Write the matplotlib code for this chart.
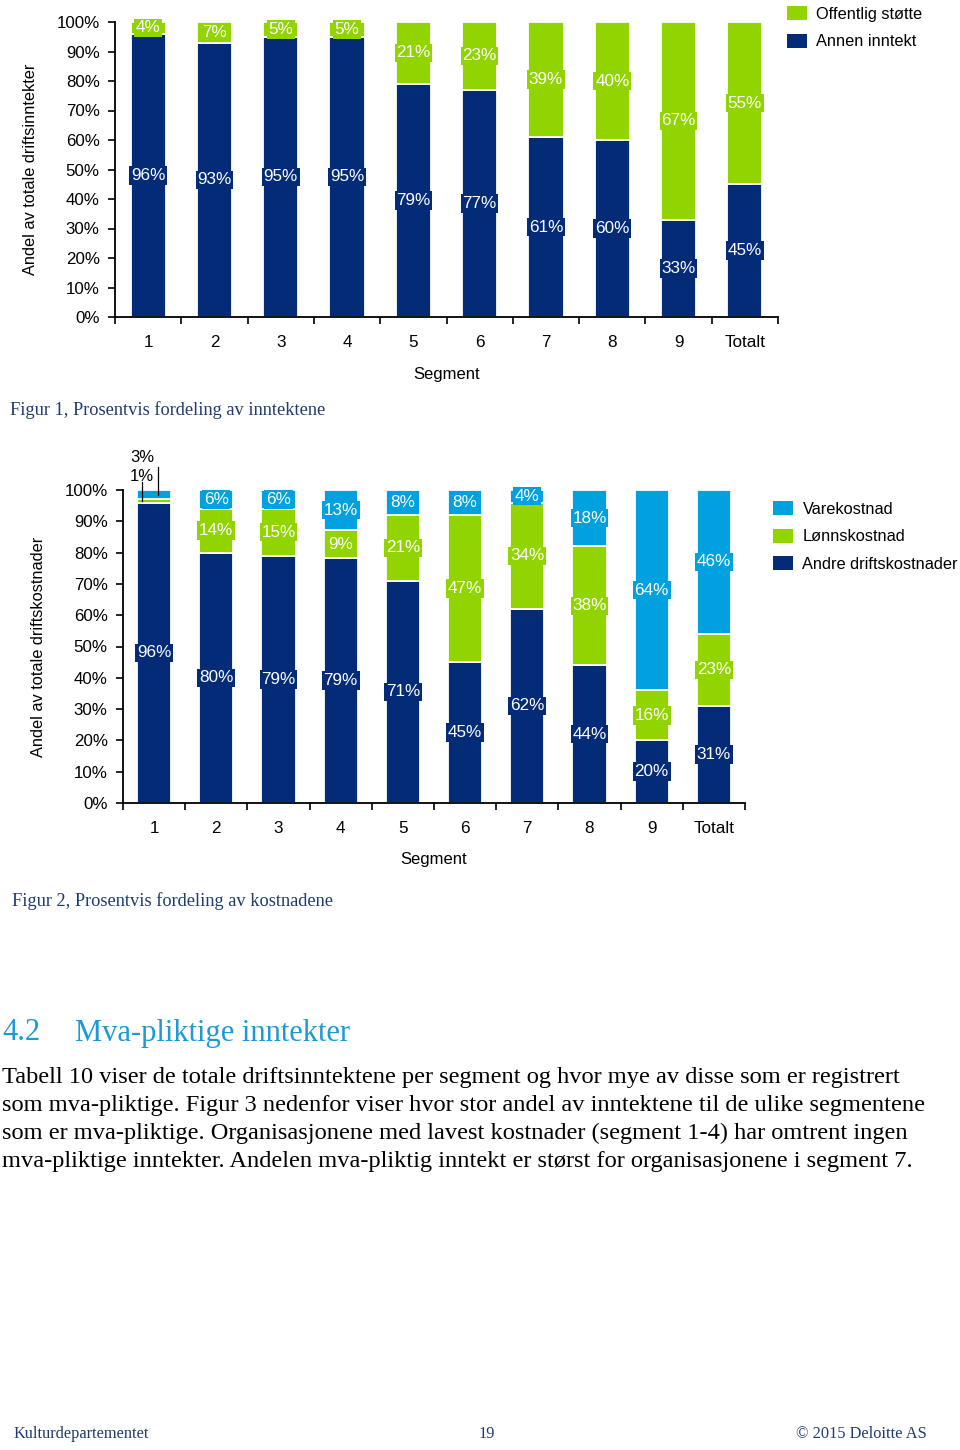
import matplotlib
matplotlib.use('Agg')
import matplotlib.pyplot as plt
import numpy as np
from matplotlib.patches import Patch

# ---------------- data ----------------
segments = ['1', '2', '3', '4', '5', '6', '7', '8', '9', 'Totalt']

# Figur 1 - inntekter (%)
annen_inntekt = [96, 93, 95, 95, 79, 77, 61, 60, 33, 45]
offentlig_stotte = [4, 7, 5, 5, 21, 23, 39, 40, 67, 55]

# Figur 2 - kostnader (%)
andre_driftskostnader = [96, 80, 79, 79, 71, 45, 62, 44, 20, 31]
lonnskostnad = [1, 14, 15, 9, 21, 47, 34, 38, 16, 23]
varekostnad = [3, 6, 6, 13, 8, 8, 4, 18, 64, 46]

y_ticks = [0, 10, 20, 30, 40, 50, 60, 70, 80, 90, 100]

# ---------------- style ----------------
NAVY = '#032B78'
GREEN = '#92D400'
BLUE = '#00A1DE'
CAPTION = '#1F3A70'
HEAD = '#1C9AD6'
SANS = ['Liberation Sans', 'DejaVu Sans']
SERIF = ['Liberation Serif', 'DejaVu Serif']
plt.rcParams['font.family'] = SANS

W, H = 960, 1450
fig = plt.figure(figsize=(W / 100, H / 100), dpi=100)
fig.patch.set_facecolor('white')


def px_axes(left, top, right, bottom):
    return fig.add_axes([left / W, 1 - bottom / H, (right - left) / W, (bottom - top) / H])


def fx(x):
    return x / W


def fy(y):
    return 1 - y / H


def draw_stacked(ax, series, colors, names, width, ylabel):
    arr = np.array(series, dtype=float)
    shares = arr / arr.sum(axis=0) * 100
    x = np.arange(len(segments))
    bottom = np.zeros(len(segments))
    small = []
    for vals, sh, col, name in zip(arr, shares, colors, names):
        ax.bar(x, sh, width, bottom=bottom, color=col, edgecolor='white',
               linewidth=1.3, label=name, zorder=2)
        for xi, b, s, v in zip(x, bottom, sh, vals):
            if v >= 4:
                ax.text(xi, b + s / 2, f'{int(v)}%', ha='center', va='center',
                        color='white', fontsize=12.3, zorder=4,
                        bbox=dict(boxstyle='square,pad=0.1', fc=col, ec='none'))
            else:
                small.append((xi, b + s / 2, int(v)))
        bottom = bottom + sh
    # small segments labelled above the bar with leader lines
    text_y = [104.2, 110.5]
    line_x = [-0.19, 0.06]
    line_top = [102.6, 107.3]
    for k, (xi, ymid, v) in enumerate(small):
        ax.text(xi - 0.19, text_y[k], f'{v}%', ha='center', va='center',
                color='black', fontsize=12, clip_on=False)
        ax.plot([xi + line_x[k], xi + line_x[k]], [ymid, line_top[k]],
                color='black', lw=0.9, clip_on=False, zorder=5)

    ax.set_xlim(-0.5, len(segments) - 0.5)
    ax.set_ylim(0, 100)
    ax.set_yticks(y_ticks)
    ax.set_yticklabels([f'{t}%' for t in y_ticks])
    ax.set_xticks(np.arange(-0.5, len(segments), 1))
    ax.set_xticklabels([])
    ax.set_xticks(x, minor=True)
    ax.set_xticklabels(segments, minor=True)
    ax.tick_params(axis='x', which='major', direction='out', length=5, width=1.2)
    ax.tick_params(axis='x', which='minor', length=0, pad=13, labelsize=12.3)
    ax.tick_params(axis='y', direction='out', length=5, width=1.2, pad=6, labelsize=12.2)
    for s in ['top', 'right']:
        ax.spines[s].set_visible(False)
    for s in ['left', 'bottom']:
        ax.spines[s].set_linewidth(1.3)
    ax.set_ylabel(ylabel, fontsize=11.8)


# ---------------- Figur 1 ----------------
ax1 = px_axes(115, 22, 778, 317)
draw_stacked(ax1, [annen_inntekt, offentlig_stotte], [NAVY, GREEN],
             ['Annen inntekt', 'Offentlig støtte'], 0.53,
             'Andel av totale driftsinntekter')
ax1.yaxis.set_label_coords((38 - 115) / 663, 0.5)
fig.text(fx(447), fy(375), 'Segment', ha='center', va='center', fontsize=12)
h1 = [Patch(fc=GREEN), Patch(fc=NAVY)]
fig.legend(h1, ['Offentlig støtte', 'Annen inntekt'], loc='upper left',
           bbox_to_anchor=(fx(787), fy(6)), frameon=False, fontsize=11.8,
           handlelength=1.25, handleheight=0.95, handletextpad=0.55,
           labelspacing=0.72, borderpad=0, borderaxespad=0)
fig.text(fx(10), fy(410), 'Figur 1, Prosentvis fordeling av inntektene',
         ha='left', va='center', fontsize=13.2, color=CAPTION, family=SERIF)

# ---------------- Figur 2 ----------------
ax2 = px_axes(123, 490, 745, 803)
draw_stacked(ax2, [andre_driftskostnader, lonnskostnad, varekostnad],
             [NAVY, GREEN, BLUE],
             ['Andre driftskostnader', 'Lønnskostnad', 'Varekostnad'], 0.55,
             'Andel av totale driftskostnader')
ax2.yaxis.set_label_coords((46 - 123) / 622, 0.5)
fig.text(fx(434), fy(859), 'Segment', ha='center', va='center', fontsize=12)
h2 = [Patch(fc=BLUE), Patch(fc=GREEN), Patch(fc=NAVY)]
fig.legend(h2, ['Varekostnad', 'Lønnskostnad', 'Andre driftskostnader'],
           loc='upper left', bbox_to_anchor=(fx(773), fy(501)), frameon=False,
           fontsize=11.8, handlelength=1.25, handleheight=0.95, handletextpad=0.55,
           labelspacing=0.72, borderpad=0, borderaxespad=0)
fig.text(fx(12), fy(901), 'Figur 2, Prosentvis fordeling av kostnadene',
         ha='left', va='center', fontsize=13.2, color=CAPTION, family=SERIF)

# ---------------- text ----------------
fig.text(fx(2), fy(1033), '4.2', ha='left', va='center', fontsize=22,
         color=HEAD, family=SERIF)
fig.text(fx(75), fy(1033), 'Mva-pliktige inntekter', ha='left', va='center',
         fontsize=22, color=HEAD, family=SERIF)
body = [
    'Tabell 10 viser de totale driftsinntektene per segment og hvor mye av disse som er registrert',
    'som mva-pliktige. Figur 3 nedenfor viser hvor stor andel av inntektene til de ulike segmentene',
    'som er mva-pliktige. Organisasjonene med lavest kostnader (segment 1-4) har omtrent ingen',
    'mva-pliktige inntekter. Andelen mva-pliktig inntekt er størst for organisasjonene i segment 7.',
]
for i, line in enumerate(body):
    fig.text(fx(2), fy(1077 + 28 * i), line, ha='left', va='center',
             fontsize=17.6, color='black', family=SERIF)

fig.text(fx(14), fy(1434), 'Kulturdepartementet', ha='left', va='center',
         fontsize=11.8, color=CAPTION, family=SERIF)
fig.text(fx(487), fy(1434), '19', ha='center', va='center',
         fontsize=11.8, color=CAPTION, family=SERIF)
fig.text(fx(927), fy(1434), '© 2015 Deloitte AS', ha='right', va='center',
         fontsize=11.8, color=CAPTION, family=SERIF)

fig.savefig('out.png', dpi=100, facecolor='white')
